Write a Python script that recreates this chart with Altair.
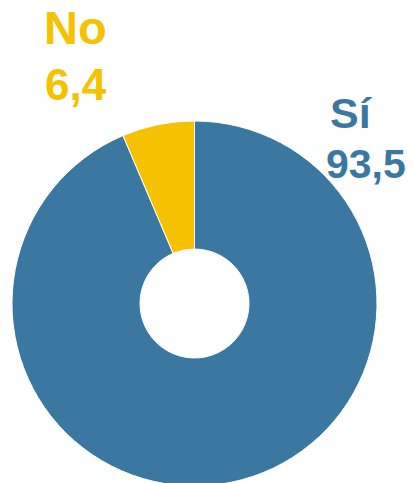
import altair as alt
import pandas as pd

categories = ["Sí", "No"]
values = [93.5, 6.4]
colors = ["#3a77a1", "#f6c100"]

df = pd.DataFrame({"cat": categories, "val": values, "ord": [0, 1]})

color_scale = alt.Scale(domain=categories, range=colors)

arc = alt.Chart(df).mark_arc(
    radius=182.5, radius2=54.5, stroke="white", strokeWidth=1
).encode(
    theta=alt.Theta("val:Q", stack=True),
    order=alt.Order("ord:Q"),
    color=alt.Color("cat:N", scale=color_scale, legend=None),
    x=alt.value(186.5),
    y=alt.value(295.5),
)

def fmt(v):
    return f"{v:.1f}".replace(".", ",")

# (x of name, baseline of name, size of name, x of value, baseline of value, size of value)
label_pos = {"No": (36, 36, 47, 37, 92, 44), "Sí": (322, 120, 43, 318, 170, 41)}

layers = [arc]
for cat, val, col in zip(categories, values, colors):
    x1, y1, s1, x2, y2, s2 = label_pos[cat]
    ldf = pd.DataFrame({"t": [cat]})
    vdf = pd.DataFrame({"t": [fmt(val)]})
    base = dict(font="Liberation Sans", fontWeight="bold", align="left",
                baseline="alphabetic", color=col)
    layers.append(alt.Chart(ldf).mark_text(fontSize=s1, **base).encode(
        text="t:N", x=alt.value(x1), y=alt.value(y1)))
    layers.append(alt.Chart(vdf).mark_text(fontSize=s2, **base).encode(
        text="t:N", x=alt.value(x2), y=alt.value(y2)))

chart = alt.layer(*layers).properties(
    width=398, height=475, padding=0,
    autosize=alt.AutoSizeParams(type="none"),
).configure_view(stroke=None)

chart.save("out.html", embed_options={"renderer": "svg", "actions": False})
